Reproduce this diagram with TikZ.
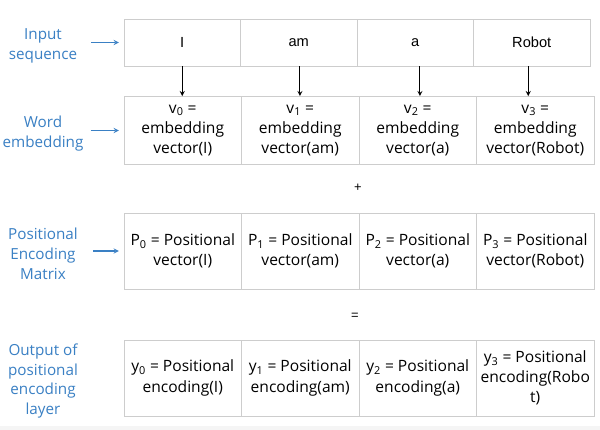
\documentclass[tikz,border=0pt]{standalone}
\usepackage{fontspec}
\setmainfont{Open Sans}
\newfontfamily\helv{Liberation Sans}
\definecolor{lblblue}{RGB}{58,128,196}
\definecolor{cellgray}{RGB}{205,205,205}
\begin{document}
\begin{tikzpicture}[x=0.03cm,y=-0.03cm,
    cell/.style={draw=cellgray,line width=0.8pt,minimum width=3.525cm,align=center,inner sep=0pt,font=\fontsize{13.3}{17.2}\selectfont},
    wordcell/.style={cell,minimum width=3.495cm,minimum height=1.41cm,font=\helv\fontsize{12.5}{15}\selectfont},
    lbl/.style={text=lblblue,align=center,inner sep=0pt,font=\fontsize{13}{17}\selectfont},
    lblarrow/.style={->,>=stealth,draw=lblblue,line width=1pt,shorten >=4pt}]
    \useasboundingbox (0,0) rectangle (600,430);
    \fill[white] (0,0) rectangle (600,430);
    \fill[black!4] (0,426) rectangle (600,430);
    % input words
    \node[wordcell] (in0) at (182.25,42.5) {I};
    \node[wordcell] (in1) at (298.75,42.5) {am};
    \node[wordcell] (in2) at (415.25,42.5) {a};
    \node[wordcell] (in3) at (531.75,42.5) {Robot};
    % embeddings
    \node[cell,minimum height=2.04cm] (emb0) at (182.75,130.5) {v\textsubscript{0} =\\embedding\\vector(I)};
    \node[cell,minimum height=2.04cm] (emb1) at (300.25,130.5) {v\textsubscript{1} =\\embedding\\vector(am)};
    \node[cell,minimum height=2.04cm] (emb2) at (417.75,130.5) {v\textsubscript{2} =\\embedding\\vector(a)};
    \node[cell,minimum height=2.04cm] (emb3) at (535.25,130.5) {v\textsubscript{3} =\\embedding\\vector(Robot)};
    \node[font=\helv\fontsize{11}{13}\selectfont] (plus) at (358,188) {+};
    % positional vectors
    \node[cell,minimum height=2.28cm] (pos0) at (182.75,251) {P\textsubscript{0} = Positional\\vector(I)};
    \node[cell,minimum height=2.28cm] (pos1) at (300.25,251) {P\textsubscript{1} = Positional\\vector(am)};
    \node[cell,minimum height=2.28cm] (pos2) at (417.75,251) {P\textsubscript{2} = Positional\\vector(a)};
    \node[cell,minimum height=2.28cm] (pos3) at (535.25,251) {P\textsubscript{3} = Positional\\vector(Robot)};
    \node[font=\helv\fontsize{11}{13}\selectfont] (equal) at (355,316) {=};
    % output
    \node[cell,minimum height=2.28cm] (out0) at (182.75,378) {y\textsubscript{0} = Positional\\encoding(I)};
    \node[cell,minimum height=2.28cm] (out1) at (300.25,378) {y\textsubscript{1} = Positional\\encoding(am)};
    \node[cell,minimum height=2.28cm] (out2) at (417.75,378) {y\textsubscript{2} = Positional\\encoding(a)};
    \node[cell,minimum height=2.28cm] (out3) at (535.25,378) {y\textsubscript{3} = Positional\\encoding(Robo\\t)};
    % labels on the left
    \node[lbl] (lab0) at (43,46) {Input\\sequence};
    \node[lbl] (lab1) at (43,134) {Word\\embedding};
    \node[lbl] (lab2) at (43,254) {Positional\\Encoding\\Matrix};
    \node[lbl] (lab3) at (43,381) {Output of\\positional\\encoding\\layer};
    \draw[lblarrow,shorten <=12pt] (lab0.east |- in0.west) -- (in0.west);
    \draw[lblarrow,shorten <=6pt] (lab1.east |- emb0.west) -- (emb0.west);
    \draw[lblarrow,shorten <=13pt] (lab2.east |- pos0.west) -- (pos0.west);
    % word to embedding
    \draw[->,>=stealth,line width=0.9pt] (in0.south) -- (in0.south |- emb0.north);
    \draw[->,>=stealth,line width=0.9pt] ([xshift=1pt]in1.south) -- ([xshift=1pt]in1.south |- emb1.north);
    \draw[->,>=stealth,line width=0.9pt] ([xshift=4pt]in2.south) -- ([xshift=4pt]in2.south |- emb2.north);
    \draw[->,>=stealth,line width=0.9pt] ([xshift=-3pt]in3.south) -- ([xshift=-3pt]in3.south |- emb3.north);
\end{tikzpicture}
\end{document}
